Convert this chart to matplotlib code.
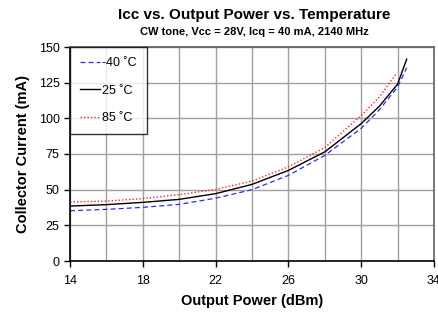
import matplotlib
matplotlib.use("Agg")
import matplotlib.pyplot as plt
import numpy as np

plt.rcParams['font.family'] = ['Liberation Sans', 'DejaVu Sans']

# Data
pout_m40 = [14, 16, 18, 20, 22, 24, 26, 28, 30, 31, 32, 32.5]
icc_m40 = [35.2, 36.2, 37.6, 39.7, 44.0, 50.0, 60.0, 74.0, 93.0, 106.0, 122.0, 135.4]

pout_25 = [14, 16, 18, 20, 22, 24, 26, 28, 30, 31, 32, 32.5]
icc_25 = [38.5, 39.5, 41.1, 43.2, 47.2, 53.7, 63.5, 76.5, 96.3, 108.5, 124.0, 141.5]

pout_85 = [14, 16, 18, 20, 22, 24, 26, 28, 30, 31, 31.9]
icc_85 = [41.3, 42.0, 43.7, 46.5, 50.2, 56.0, 66.0, 79.5, 102.0, 115.0, 130.8]

labels = ['-40 \u02daC', '25 \u02daC', '85 \u02daC']
xticks = [14, 18, 22, 26, 30, 34]
yticks = [0, 25, 50, 75, 100, 125, 150]

fig = plt.figure(figsize=(4.39, 3.2), dpi=100)
ax = fig.add_axes([70/439, 1 - 261/320, (434-70)/439, (261-47)/320])

ax.plot(pout_m40, icc_m40, color='#2b2bff', ls=(0, (4, 2.5)), lw=0.9, label=labels[0])
ax.plot(pout_25, icc_25, color='black', ls='-', lw=1.0, label=labels[1])
ax.plot(pout_85, icc_85, color='#ff2020', ls=(0, (1, 1.5)), lw=1.0, label=labels[2])

ax.set_xlim(14, 34)
ax.set_ylim(0, 150)
ax.set_xticks(xticks)
ax.set_xticks(np.arange(14, 35, 2), minor=True)
ax.set_yticks(yticks)
ax.grid(True, which='both', color='#a0a0a0', lw=1.0)
ax.set_axisbelow(True)
ax.tick_params(axis='both', which='major', direction='out', length=4, width=1,
               labelsize=9, colors='black')
ax.tick_params(axis='x', which='minor', length=0)
ax.tick_params(axis='x', pad=6)
for s in ['left', 'bottom']:
    ax.spines[s].set_color('black')
    ax.spines[s].set_linewidth(1.2)
for s in ['top', 'right']:
    ax.spines[s].set_color('#606060')
    ax.spines[s].set_linewidth(1.2)

ax.set_xlabel('Output Power (dBm)', fontsize=10.5, fontweight='bold', labelpad=5)
ax.set_ylabel('Collector Current (mA)', fontsize=10.5, fontweight='bold', labelpad=6)

fig.text(254/439, 1 - 15/320, 'Icc vs. Output Power vs. Temperature', ha='center', va='center',
         fontsize=11, fontweight='bold')
fig.text(254/439, 1 - 32/320, 'CW tone, Vcc = 28V, Icq = 40 mA, 2140 MHz', ha='center', va='center',
         fontsize=8, fontweight='bold')

leg = ax.legend(loc='upper left', bbox_to_anchor=(0.0, 1.0), fontsize=9, frameon=True,
                fancybox=False, edgecolor='black', handlelength=1.6, handletextpad=0.2,
                borderpad=0.8, labelspacing=1.25, borderaxespad=0.0)
leg.get_frame().set_linewidth(1.0)

fig.savefig('out.png', dpi=100)
